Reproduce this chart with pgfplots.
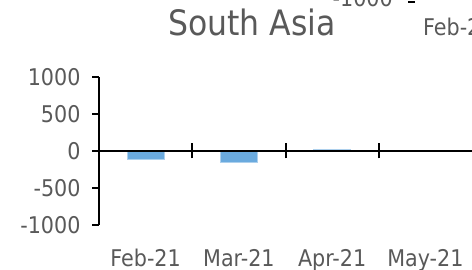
\documentclass[border=0pt]{standalone}
\usepackage{fontspec}
\setmainfont{DejaVu Sans Condensed}
\usepackage{pgfplots}
\pgfplotsset{compat=1.18}
\definecolor{txt}{RGB}{89,89,89}
\definecolor{barc}{RGB}{106,170,222}
\begin{document}
\begin{tikzpicture}
\useasboundingbox (0,0) rectangle (472bp,270bp);
\clip (0,0) rectangle (472bp,270bp);
\begin{axis}[
  at={(99bp,45bp)}, anchor=south west,
  scale only axis, width=373bp, height=148bp,
  xmin=-0.5, xmax=3.5, ymin=-1000, ymax=1000,
  axis y line*=left, axis x line*=bottom,
  axis line style={line width=2bp, black, -},
  x axis line style={draw=none},
  ytick={-1000,-500,0,500,1000},
  yticklabels={-1000,-500,0,500,1000},
  xtick={0,1,2,3},
  xticklabels={Feb-21,Mar-21,Apr-21,May-21},
  x tick style={draw=none},
  y tick style={line width=2bp, black},
  tick align=outside, major tick length=7bp,
  tick label style={font=\fontsize{23bp}{27bp}\selectfont, text=txt},
  yticklabel style={anchor=east, xshift=-8bp},
  xticklabel style={anchor=base, yshift=-34bp},
  ybar, bar width=37bp,
  clip=false,
]
\addplot[fill=barc, draw=barc!55!white, line width=0.8bp] coordinates {(0,-120) (1,-150) (2,15) (3,12)};
\draw[line width=2bp, black] (axis cs:-0.5,0) -- (axis cs:3.5,0);
\draw[line width=2bp, black] ([yshift=-7.5bp]axis cs:0.5,0) -- ([yshift=7.5bp]axis cs:0.5,0);
\draw[line width=2bp, black] ([yshift=-7.5bp]axis cs:1.5,0) -- ([yshift=7.5bp]axis cs:1.5,0);
\draw[line width=2bp, black] ([yshift=-7.5bp]axis cs:2.5,0) -- ([yshift=7.5bp]axis cs:2.5,0);
\end{axis}
\node[anchor=base, text=txt, font=\fontsize{35bp}{40bp}\selectfont] at (252bp,234bp) {South Asia};
\node[anchor=base east, inner sep=0pt, text=txt, font=\fontsize{23bp}{27bp}\selectfont] at (393bp,263bp) {-1000};
\draw[line width=2bp, black] (408bp,268bp) -- (415bp,268bp);
\node[anchor=base west, inner sep=0pt, text=txt, font=\fontsize{23bp}{27bp}\selectfont] at (423bp,234bp) {Feb-21};
\end{tikzpicture}
\end{document}
